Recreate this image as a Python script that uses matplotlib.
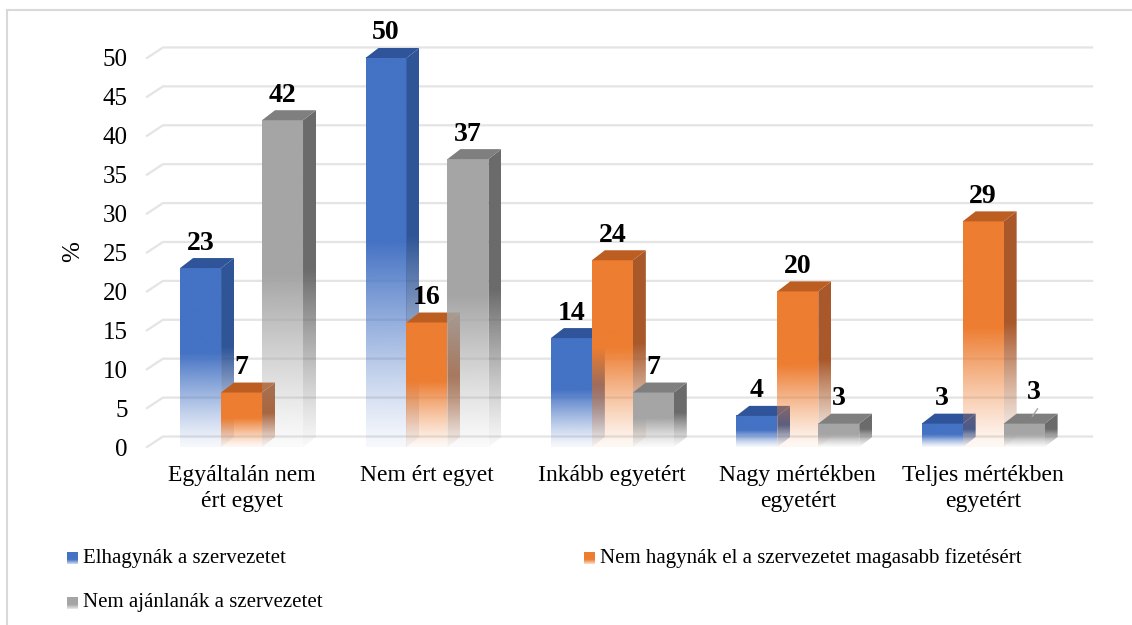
import numpy as np
import matplotlib.pyplot as plt
from matplotlib.patches import Polygon
from matplotlib.lines import Line2D
from matplotlib.colors import to_rgb

plt.rcParams['font.family'] = ['Liberation Serif', 'DejaVu Serif']

# data
categories = ['Egyáltalán nem\nért egyet', 'Nem ért egyet', 'Inkább egyetért',
              'Nagy mértékben\negyetért', 'Teljes mértékben\negyetért']
series_names = ['Elhagynák a szervezetet',
                'Nem hagynák el a szervezetet magasabb fizetésért',
                'Nem ajánlanák a szervezetet']
elhagynak = [23, 50, 14, 4, 3]
nem_hagynak = [7, 16, 24, 20, 29]
nem_ajanlanak = [42, 37, 7, 3, 3]
yticks = [0, 5, 10, 15, 20, 25, 30, 35, 40, 45, 50]

front_colors = ['#4472C4', '#ED7D31', '#A5A5A5']
side_colors = ['#2F5597', '#A9582A', '#6B6B6B']
top_colors = ['#30549A', '#BC5E22', '#7F7F7F']

W, H = 1132, 625
fig = plt.figure(figsize=(W / 100, H / 100), dpi=100)


def fx(px):
    return px / W


def fy(py):
    return 1 - py / H


ax = fig.add_axes([fx(147), fy(447), fx(1110) - fx(147), fy(20) - fy(447)])

bar_w = 0.221
dx, dy = 0.070, 1.285      # depth of the bars
wall_dx, wall_dy = 0.086, 1.35


def gradient(color, n=200):
    t = np.linspace(0, 1, n)[:, None]
    alpha = np.clip(0.05 + (t / 0.55) ** 1.2, 0, 1)
    img = np.zeros((n, 1, 4))
    img[..., :3] = to_rgb(color)
    img[..., 3] = alpha
    return img


# back wall gridlines
x_left, x_right = -0.51, 4.587
for v in yticks:
    ax.plot([x_left, x_left + wall_dx, x_right], [v, v + wall_dy, v + wall_dy],
            color='#E4E4E4', lw=1.6, zorder=1, clip_on=False)

all_series = [elhagynak, nem_hagynak, nem_ajanlanak]
offsets = [-bar_w, 0, bar_w]
x = np.arange(len(categories))
for s, vals in enumerate(all_series):
    z = 3 + s
    for i, v in enumerate(vals):
        x0 = x[i] + offsets[s] - bar_w / 2
        x1 = x0 + bar_w
        # front face
        ax.imshow(gradient(front_colors[s]), extent=[x0, x1, 0, v], origin='lower',
                  aspect='auto', interpolation='bilinear', zorder=z)
        # side face
        side = Polygon([(x1, 0), (x1 + dx, dy), (x1 + dx, v + dy), (x1, v)],
                       closed=True, fc='none', ec='none', transform=ax.transData)
        ax.add_patch(side)
        im = ax.imshow(gradient(side_colors[s]), extent=[x1, x1 + dx, 0, v + dy],
                       origin='lower', aspect='auto', interpolation='bilinear', zorder=z)
        im.set_clip_path(side)
        # top face
        ax.add_patch(Polygon([(x0, v), (x0 + dx, v + dy), (x1 + dx, v + dy), (x1, v)],
                             closed=True, fc=top_colors[s], ec='none', zorder=z + 0.1))
        # value label
        if s == 2 and i == 4:
            ax.annotate(str(v), (x0 + bar_w / 2 + dx / 2, v + dy / 2), xytext=(2, 19),
                        textcoords='offset points', ha='center', va='center',
                        fontsize=20, fontweight='bold', zorder=10,
                        arrowprops=dict(arrowstyle='-', color='#A6A6A6', lw=1,
                                        relpos=(1.0, 0.0), shrinkA=1, shrinkB=2))
        else:
            ax.annotate(str(v), (x0 + bar_w / 2, v), xytext=(0, 18),
                        textcoords='offset points', ha='center', va='center',
                        fontsize=20, fontweight='bold', zorder=10)

ax.set_xlim(-0.51, 4.684)
ax.set_ylim(0, 54.88)
for sp in ax.spines.values():
    sp.set_visible(False)
ax.tick_params(length=0)
ax.set_yticks(yticks)
ax.set_yticklabels([str(t) for t in yticks], fontsize=18)
ax.tick_params(axis='y', pad=14)
ax.set_xticks(x)
ax.set_xticklabels(categories, fontsize=17, linespacing=1.3)
ax.tick_params(axis='x', pad=13)

fig.text(fx(73), fy(252), '%', rotation=90, ha='center', va='center', fontsize=18)

# legend
legend_pos = [(67, 552, 83, 558), (584, 552, 600, 558), (67, 597, 83, 603)]
for s, (sx, sy, tx, ty) in enumerate(legend_pos):
    lax = fig.add_axes([fx(sx), fy(sy + 12), fx(11), 12 / H])
    t = np.linspace(0, 1, 50)[:, None]
    img = np.ones((50, 1, 3))
    c = np.array(to_rgb(front_colors[s]))
    mix = np.clip(0.25 + t / 0.5, 0, 1)
    img[:, 0, :] = mix * c + (1 - mix)
    lax.imshow(img, origin='lower', aspect='auto', extent=[0, 1, 0, 1])
    lax.axis('off')
    fig.text(fx(tx), fy(ty), series_names[s], ha='left', va='center', fontsize=15)

# chart area border
fig.add_artist(Line2D([fx(7), fx(7)], [fy(10), 0], color='#D9D9D9', lw=1.5))
fig.add_artist(Line2D([fx(7), 1], [fy(10), fy(10)], color='#D9D9D9', lw=1.5))

fig.savefig('out.png', dpi=100)
